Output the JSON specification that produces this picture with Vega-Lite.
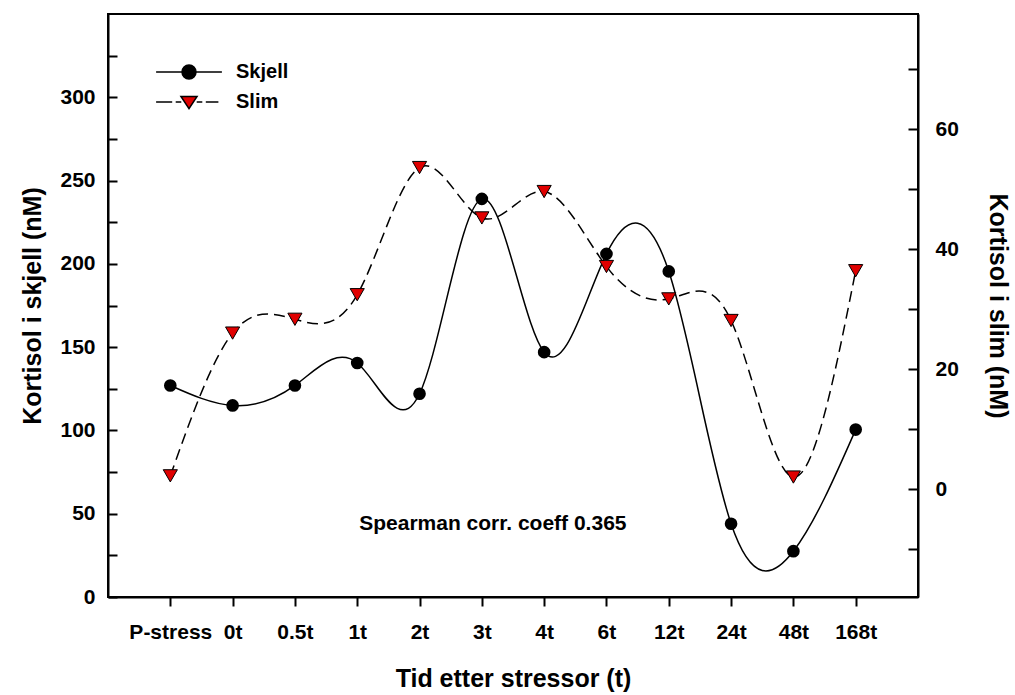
{
  "$schema": "https://vega.github.io/schema/vega-lite/v6.json",
  "autosize": {"type": "none"},
  "padding": {"left": 108, "top": 14, "right": 97, "bottom": 98},
  "width": 810,
  "height": 583,
  "background": "white",
  "data": {
    "values": [
      {"t": "P-stress", "series": "Skjell", "value": 127},
      {"t": "0t", "series": "Skjell", "value": 115},
      {"t": "0.5t", "series": "Skjell", "value": 127},
      {"t": "1t", "series": "Skjell", "value": 140.5},
      {"t": "2t", "series": "Skjell", "value": 122},
      {"t": "3t", "series": "Skjell", "value": 239},
      {"t": "4t", "series": "Skjell", "value": 147},
      {"t": "6t", "series": "Skjell", "value": 206},
      {"t": "12t", "series": "Skjell", "value": 195.5},
      {"t": "24t", "series": "Skjell", "value": 44},
      {"t": "48t", "series": "Skjell", "value": 27.5},
      {"t": "168t", "series": "Skjell", "value": 100.5},
      {"t": "P-stress", "series": "Slim", "value": 2.2},
      {"t": "0t", "series": "Slim", "value": 26},
      {"t": "0.5t", "series": "Slim", "value": 28.3},
      {"t": "1t", "series": "Slim", "value": 32.4},
      {"t": "2t", "series": "Slim", "value": 53.6},
      {"t": "3t", "series": "Slim", "value": 45.2},
      {"t": "4t", "series": "Slim", "value": 49.6},
      {"t": "6t", "series": "Slim", "value": 37.1},
      {"t": "12t", "series": "Slim", "value": 31.7},
      {"t": "24t", "series": "Slim", "value": 28.1},
      {"t": "48t", "series": "Slim", "value": 2},
      {"t": "168t", "series": "Slim", "value": 36.4}
    ]
  },
  "encoding": {
    "x": {
      "field": "t",
      "type": "ordinal",
      "sort": ["P-stress", "0t", "0.5t", "1t", "2t", "3t", "4t", "6t", "12t", "24t", "48t", "168t"],
      "scale": {"type": "point", "padding": 1},
      "axis": {
        "title": "Tid etter stressor (t)",
        "labelAngle": 0,
        "tickSize": 9,
        "labelPadding": 15,
        "titlePadding": 24,
        "labelOverlap": false
      }
    }
  },
  "layer": [
    {
      "encoding": {
        "y": {
          "field": "value",
          "type": "quantitative",
          "scale": {"domain": [0, 350], "nice": false, "zero": false},
          "axis": {
            "orient": "left",
            "title": "Kortisol i skjell (nM)",
            "values": [0, 25, 50, 75, 100, 125, 150, 175, 200, 225, 250, 275, 300, 325],
            "labelExpr": "datum.value % 50 == 0 ? datum.label : ''",
            "labelOverlap": false,
            "tickSize": -9,
            "labelPadding": 22,
            "titlePadding": 14
          }
        }
      },
      "layer": [
        {
          "transform": [{"filter": "datum.series == 'Skjell'"}],
          "mark": {"type": "line", "interpolate": "natural", "color": "black", "strokeWidth": 1.5}
        },
        {
          "transform": [{"filter": "datum.series == 'Skjell'"}],
          "mark": {"type": "point", "shape": "circle", "filled": true, "color": "black", "opacity": 1, "size": 160}
        },
        {
          "mark": {"type": "point", "filled": true, "opacity": 0},
          "encoding": {
            "shape": {
              "field": "series",
              "type": "nominal",
              "scale": {
                "domain": ["Skjell", "Slim"],
                "range": [
                  "M-4.7,0H4.7M1,0A1,1 0 1,1 -1,0A1,1 0 1,1 1,0Z",
                  "M-4.7,0H-2.4M-1.9,0H-1.1M1.1,0H1.9M2.4,0H4.2M-1.15,-0.8L1.15,-0.8L0,0.95Z"
                ]
              },
              "legend": {
                "title": null,
                "orient": "none",
                "legendX": 71,
                "legendY": 48,
                "padding": 0,
                "rowPadding": 10,
                "symbolSize": 196,
                "symbolOpacity": 1,
                "labelOffset": 37,
                "labelFont": "Liberation Sans",
                "labelFontWeight": "bold",
                "labelFontSize": 20,
                "labelColor": "black",
                "encode": {"symbols": {"update": {"stroke": {"value": "black"}, "strokeWidth": {"value": 1.5}, "opacity": {"value": 1}}}}
              }
            },
            "color": {
              "field": "series",
              "type": "nominal",
              "scale": {"domain": ["Skjell", "Slim"], "range": ["black", "#e00000"]},
              "legend": {
                "title": null,
                "orient": "none",
                "legendX": 71,
                "legendY": 48,
                "padding": 0,
                "rowPadding": 10,
                "symbolSize": 196,
                "symbolOpacity": 1,
                "labelOffset": 37,
                "labelFont": "Liberation Sans",
                "labelFontWeight": "bold",
                "labelFontSize": 20,
                "labelColor": "black",
                "encode": {"symbols": {"update": {"stroke": {"value": "black"}, "strokeWidth": {"value": 1.5}, "opacity": {"value": 1}}}}
              }
            }
          }
        },
        {
          "data": {"values": [{"t": "3t", "value": 44, "label": "Spearman corr. coeff 0.365"}]},
          "mark": {"type": "text", "font": "Liberation Sans", "fontWeight": "bold", "fontSize": 21, "color": "black", "align": "center", "baseline": "middle", "dx": 11},
          "encoding": {"text": {"field": "label"}}
        }
      ]
    },
    {
      "transform": [{"filter": "datum.series == 'Slim'"}],
      "encoding": {
        "y": {
          "field": "value",
          "type": "quantitative",
          "scale": {"domain": [-18, 79.2], "nice": false, "zero": false},
          "axis": {
            "orient": "right",
            "title": "Kortisol i slim (nM)",
            "values": [-10, 0, 10, 20, 30, 40, 50, 60, 70],
            "labelExpr": "datum.value % 20 == 0 ? datum.label : ''",
            "labelOverlap": false,
            "tickSize": -10,
            "labelPadding": 27,
            "titlePadding": 26
          }
        }
      },
      "layer": [
        {
          "mark": {"type": "line", "interpolate": "natural", "color": "black", "strokeWidth": 1.5, "strokeDash": [11, 6]}
        },
        {
          "mark": {"type": "point", "shape": "triangle-down", "filled": true, "fill": "#e00000", "stroke": "black", "strokeWidth": 1, "opacity": 1, "size": 200}
        }
      ]
    }
  ],
  "resolve": {"scale": {"y": "independent"}},
  "config": {
    "font": "Liberation Sans",
    "view": {"stroke": "black", "strokeWidth": 2},
    "axis": {
      "grid": false,
      "domainColor": "black",
      "domainWidth": 2,
      "tickColor": "black",
      "tickWidth": 2,
      "labelFont": "Liberation Sans",
      "labelFontWeight": "bold",
      "labelFontSize": 21,
      "labelColor": "black",
      "titleFont": "Liberation Sans",
      "titleFontWeight": "bold",
      "titleFontSize": 25,
      "titleColor": "black"
    }
  }
}
